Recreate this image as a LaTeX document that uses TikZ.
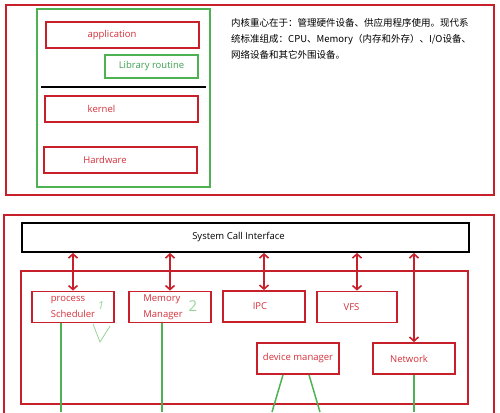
\documentclass[tikz,border=0pt]{standalone}
\usepackage{fontspec}
\setmainfont{Open Sans}
\newfontfamily\cjk{Noto Sans CJK SC}
\usepackage{tikz}
\usetikzlibrary{arrows.meta}
\usetikzlibrary{positioning}
\definecolor{boxred}{RGB}{200,32,42}
\definecolor{txtred}{RGB}{212,48,58}
\definecolor{boxgreen}{RGB}{78,178,82}
\definecolor{libgreen}{RGB}{60,160,80}
\definecolor{pengreen}{RGB}{150,212,150}

\begin{document}
\begin{tikzpicture}
		[x=1pt,y=-1pt,
		every node/.style={font=\fontsize{9.5}{12}\selectfont,inner sep=0pt},
		redbox/.style={draw=boxred,line width=1.8pt,minimum width=153pt,minimum height=26pt},
		kbox/.style={draw=boxred,line width=1.8pt,minimum width=82pt,minimum height=31pt},
		frame/.style={line width=1.8pt},
		dArrow/.style={boxred,line width=1.6pt,{Straight Barb[length=4pt,width=9pt]}-{Straight Barb[length=4pt,width=9pt]}},
		gline/.style={boxgreen,line width=1.5pt}]
		\useasboundingbox (0,0) rectangle (500,412);
		\clip (0,0) rectangle (500,412);
		
		% upper part
		\draw[frame,boxred] (6,5) rectangle (494,195);
		\draw[frame,boxgreen] (37,9) rectangle (210,187);
		\node[redbox,label={[txtred,xshift=-10.5pt]center:application}] (app) at (122.5,35) {};
		\node[draw=boxgreen,line width=1.8pt,minimum width=93pt,minimum height=23pt,text=libgreen] (lib) at (151.5,66.5) {Library routine};
		\draw[line width=1.8pt] (41,87) -- (206,87);
		\node[redbox,label={[txtred,xshift=-20pt]center:kernel}] (kern) at (121.5,109) {};
		\node[redbox,label={[txtred,xshift=-15.5pt]center:Hardware}] (hw) at (120.5,160) {};
		\node[anchor=north west,align=left,font=\cjk\fontsize{9.5}{16}\selectfont] (note) at (231,18)
		{内核重心在于：管理硬件设备、供应用程序使用。现代系\\
		 统标准组成：CPU、Memory（内存和外存）、I/O设备、\\
		 网络设备和其它外围设备。};
		
		% lower part
		\draw[frame,boxred] (4,215) rectangle (494,430);
		\node[draw,line width=2pt,minimum width=447pt,minimum height=29pt,
		label={[xshift=-7pt]center:System Call Interface}] (sci) at (245.5,237.5) {};
		\draw[frame,boxred] (21,271) rectangle (468,404);
		\node[kbox,label={[txtred,align=left,font=\fontsize{9.5}{16}\selectfont]center:{process\\Scheduler}}] (proc) at (73,307) {};
		\node[kbox,label={[txtred,align=left,xshift=-7pt,font=\fontsize{9.5}{16}\selectfont]center:{Memory\\Manager}}] (mem) at (170,307) {};
		\node[kbox,label={[txtred,xshift=-4pt]center:IPC}] (ipc) at (264,306.5) {};
		\node[kbox,minimum width=80pt,label={[txtred,xshift=-5.5pt]center:VFS}] (vfs) at (357,307) {};
		\node[kbox,text=txtred] (devm) at (298,358.5) {device manager};
		\node[kbox,label={[txtred,xshift=-5pt]center:Network}] (net) at (414,358.5) {};
		
		\foreach \n in {proc,mem,ipc,vfs,net}
		\draw[dArrow] (sci.south -| \n.north) -- (\n.north);
		
		\coordinate (proc-end) at (61,412);
		\coordinate (mem-end) at (162,412);
		\coordinate (net-end) at (414,412);
		\coordinate (devl-end) at (272,412);
		\coordinate (devr-end) at (320,412);
		\foreach \n in {proc,mem,net}
		\draw[gline] (\n-end |- \n.south) -- (\n-end);
		\draw[gline] ([xshift=-15pt]devm.south) -- (devl-end);
		\draw[gline] ([xshift=11pt]devm.south) -- (devr-end);
		
		% pen marks
		\node[text=pengreen,font=\itshape\fontsize{11}{11}\selectfont] (one) at (101,306) {1};
		\node[text=pengreen,font=\fontsize{15}{15}\selectfont] (two) at (193,306) {2};
		\draw[pengreen,line width=0.8pt] (93,324) -- (100,342) -- (110,326);
\end{tikzpicture}
\end{document}
